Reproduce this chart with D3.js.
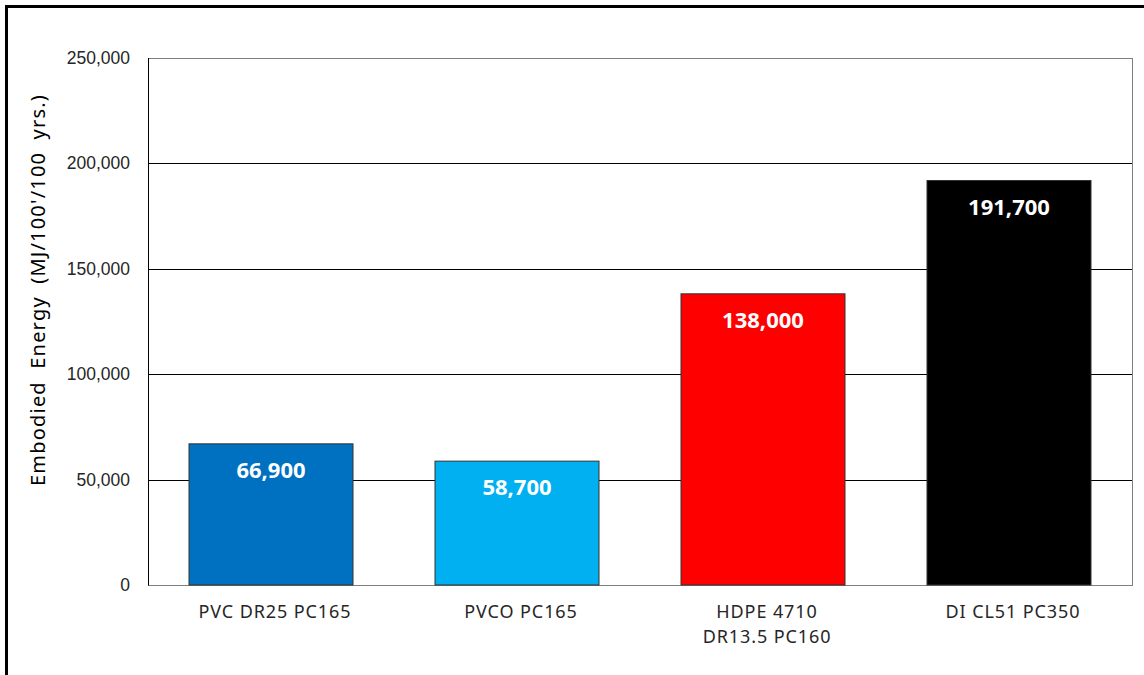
<!DOCTYPE html>
<html lang="en">
<head>
<meta charset="UTF-8">
<title>Embodied Energy</title>
<style>
  body { margin: 0; background: #fff; }
  svg { display: block; font-family: "Noto Sans", sans-serif; }
</style>
</head>
<body>
<script src="https://cdn.jsdelivr.net/npm/d3@7/dist/d3.min.js"></script>
<script>
var categories = [["PVC DR25 PC165"], ["PVCO PC165"], ["HDPE 4710", "DR13.5 PC160"], ["DI CL51 PC350"]];
var values = [66900, 58700, 138000, 191700];
var colors = ["#0070c0", "#00b0f0", "#ff0000", "#000000"];
var yTicks = [0, 50000, 100000, 150000, 200000, 250000];
var yTitle = "Embodied Energy (MJ/100'/100 yrs.)";

var width = 1144, height = 675;
var padding = {top: 57.5, left: 148, right: 12, bottom: 90};

var svg = d3.select("body").append("svg")
  .attr("width", width)
  .attr("height", height);

// outer frame
svg.append("path")
  .attr("d", "M6.5," + height + "V6.5H" + width)
  .attr("fill", "none")
  .attr("stroke", "#000")
  .attr("stroke-width", 3);

var plotW = width - padding.left - padding.right;
var plotH = height - padding.top - padding.bottom;

var xScale = d3.scaleBand()
  .domain(d3.range(values.length))
  .range([padding.left, padding.left + plotW])
  .paddingInner(1 / 3)
  .paddingOuter(1 / 6);

var yScale = d3.scaleLinear()
  .domain([0, 250000])
  .range([padding.top + plotH, padding.top]);

// gridlines
svg.append("g").selectAll("line")
  .data(yTicks.slice(1))
  .enter().append("line")
  .attr("x1", padding.left)
  .attr("x2", padding.left + plotW)
  .attr("y1", function(d) { return Math.round(yScale(d)) + 0.5; })
  .attr("y2", function(d) { return Math.round(yScale(d)) + 0.5; })
  .attr("stroke", "#000")
  .attr("stroke-width", 1);

// plot border
svg.append("rect")
  .attr("x", padding.left + 0.5)
  .attr("y", Math.round(padding.top) + 0.5)
  .attr("width", plotW)
  .attr("height", Math.round(yScale(0)) - Math.round(padding.top))
  .attr("fill", "none")
  .attr("stroke", "#7f7f7f")
  .attr("stroke-width", 1);

// y axis
var yAxis = d3.axisLeft(yScale)
  .tickValues(yTicks)
  .tickSize(0)
  .tickPadding(18)
  .tickFormat(d3.format(","));

var gy = svg.append("g")
  .attr("transform", "translate(" + padding.left + ",0)")
  .call(yAxis);
gy.select(".domain").attr("stroke", "#000");
gy.selectAll("text")
  .attr("font-size", "17.5px")
  .attr("fill", "#262626");

// bars
svg.selectAll(".bar")
  .data(values)
  .enter().append("rect")
  .attr("class", "bar")
  .attr("x", function(d, i) { return xScale(i); })
  .attr("y", function(d) { return yScale(d); })
  .attr("width", xScale.bandwidth())
  .attr("height", function(d) { return yScale(0) - yScale(d); })
  .attr("fill", function(d, i) { return colors[i]; })
  .attr("stroke", "#333")
  .attr("stroke-width", 1);

// value labels
svg.selectAll(".val")
  .data(values)
  .enter().append("text")
  .attr("class", "val")
  .attr("x", function(d, i) { return xScale(i) + xScale.bandwidth() / 2; })
  .attr("y", function(d) { return yScale(d) + 34; })
  .attr("text-anchor", "middle")
  .attr("font-size", "22px")
  .attr("font-weight", "bold")
  .attr("fill", "#fff")
  .text(function(d) { return d3.format(",")(d); });

// category labels
var cat = svg.selectAll(".cat")
  .data(categories)
  .enter().append("text")
  .attr("class", "cat")
  .attr("text-anchor", "middle")
  .attr("font-size", "18px")
  .attr("letter-spacing", "0.9px")
  .attr("fill", "#262626")
  .attr("transform", function(d, i) {
    return "translate(" + (xScale(i) + xScale.bandwidth() / 2 + 4) + "," + (yScale(0) + 33) + ")";
  });
cat.selectAll("tspan")
  .data(function(d) { return d; })
  .enter().append("tspan")
  .attr("x", 0)
  .attr("dy", function(d, i) { return i === 0 ? 0 : 25; })
  .text(function(d) { return d; });

// y title
svg.append("text")
  .attr("transform", "translate(45,290) rotate(-90)")
  .attr("text-anchor", "middle")
  .attr("font-size", "20px")
  .attr("letter-spacing", "1.2px")
  .attr("word-spacing", "6px")
  .attr("fill", "#000")
  .text(yTitle);
</script>
</body>
</html>
